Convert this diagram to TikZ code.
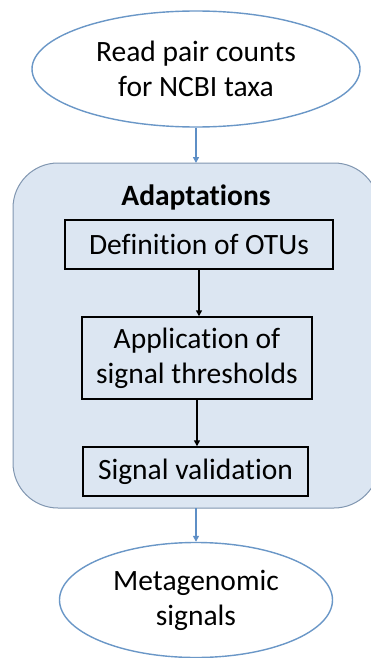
\documentclass[tikz,border=0pt]{standalone}
\usepackage{fontspec}
\setmainfont{Carlito}[Ligatures=NoCommon]
\usetikzlibrary{shapes.geometric,arrows.meta}
\definecolor{ovalblue}{HTML}{6A97C7}
\definecolor{panelfill}{HTML}{DCE6F2}
\definecolor{panelline}{HTML}{8096B0}
\definecolor{flowblue}{HTML}{5E8FC6}
\tikzset{
  oval/.style={ellipse, draw=ovalblue, line width=1.4pt, fill=white,
    minimum width=#1, inner sep=0pt, align=center,
    font=\fontsize{29.5}{35}\selectfont},
  stepbox/.style={draw=black, line width=1.4pt, fill=panelfill, inner sep=0pt,
    align=center, font=\fontsize{29.5}{35}\selectfont},
  blueflow/.style={draw=flowblue, line width=1.4pt, -{Triangle[length=6pt,width=6pt]}},
  blackflow/.style={draw=black, line width=1.4pt, -{Triangle[length=6pt,width=6pt]}}
}
\begin{document}
\begin{tikzpicture}[x=1pt,y=-1pt]
  \useasboundingbox (0,0) rectangle (371,658);
  % adaptations panel
  \path[fill=panelfill, draw=panelline, line width=1pt, rounded corners=45pt]
    (13,163) rectangle (379,508);
  \coordinate (panelTop) at (196,163);
  \coordinate (panelBot) at (196,508);
  \node[font=\fontsize{29.5}{35}\selectfont\bfseries] (title) at (196,197) {Adaptations};
  % ovals
  \node[oval=328pt, minimum height=116pt] (reads) at (196,69)
    {Read pair counts\\for NCBI taxa};
  \node[oval=273pt, minimum height=115pt] (signals) at (196,600)
    {Metagenomic\\signals};
  % steps
  \node[stepbox, minimum width=268pt, minimum height=49pt] (otus) at (199,244.5)
    {Definition of OTUs};
  \node[stepbox, minimum width=230pt, minimum height=82pt] (thresh) at (197,358)
    {Application of\\signal thresholds};
  \node[stepbox, minimum width=225pt, minimum height=49pt] (valid) at (195.5,471.5)
    {Signal validation};
  % connectors
  \draw[blueflow] (reads.south) -- (panelTop);
  \draw[blackflow] (otus.south) -- (otus.south |- thresh.north);
  \draw[blackflow] (thresh.south) -- (thresh.south |- valid.north);
  \draw[blueflow] (panelBot) -- (signals.north);
\end{tikzpicture}
\end{document}
